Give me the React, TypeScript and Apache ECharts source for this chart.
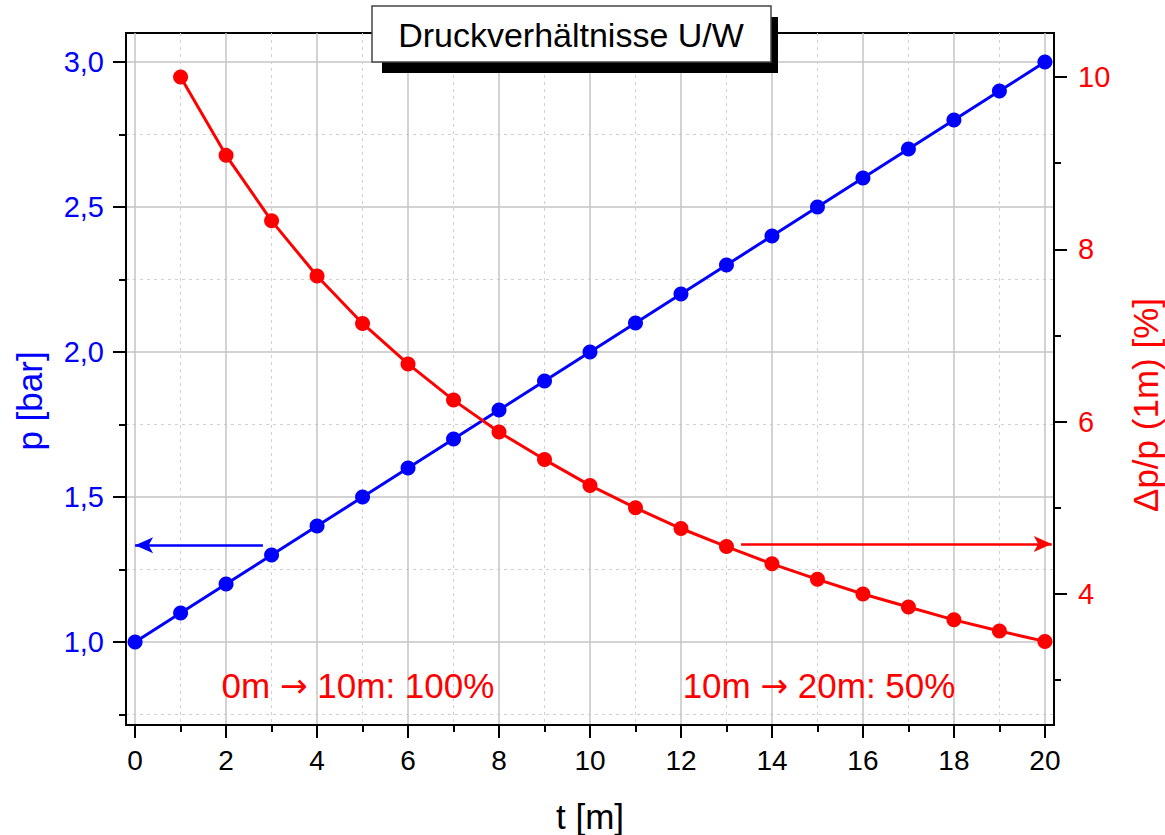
import React, { useEffect, useRef } from "react";
import * as echarts from "echarts";

// ---- data ----
const tValues = [0, 1, 2, 3, 4, 5, 6, 7, 8, 9, 10, 11, 12, 13, 14, 15, 16, 17, 18, 19, 20];
const pressureBar = [1.0, 1.1, 1.2, 1.3, 1.4, 1.5, 1.6, 1.7, 1.8, 1.9, 2.0, 2.1, 2.2, 2.3, 2.4, 2.5, 2.6, 2.7, 2.8, 2.9, 3.0];
const ratioT = [1, 2, 3, 4, 5, 6, 7, 8, 9, 10, 11, 12, 13, 14, 15, 16, 17, 18, 19, 20];
const ratioPct = [10.0, 9.09, 8.33, 7.69, 7.14, 6.67, 6.25, 5.88, 5.56, 5.26, 5.0, 4.76, 4.55, 4.35, 4.17, 4.0, 3.85, 3.7, 3.57, 3.45];

const xTicks = [0, 2, 4, 6, 8, 10, 12, 14, 16, 18, 20];
const leftTicks = [1.0, 1.5, 2.0, 2.5, 3.0];
const rightTicks = [4, 6, 8, 10];

const blueArrow = [[2.81, 1.334], [0, 1.334]];
const redArrow = [[13.32, 4.58], [20.15, 4.58]];

const titleText = "Druckverhältnisse U/W";
const xTitle = "t [m]";
const leftTitle = "p [bar]";
const rightTitle = "Δp/p (1m) [%]";
const note1 = ["0m ", "→", " 10m: 100%"];
const note2 = ["10m ", "→", " 20m: 50%"];

const FONT = "Arial, 'Liberation Sans', Helvetica, sans-serif";
const BLUE = "#0000ff";
const RED = "#ff0000";

const isMultiple = (v: number, step: number) => Math.abs(v / step - Math.round(v / step)) < 1e-6;

export default function App() {
  const ref = useRef<HTMLDivElement>(null);

  useEffect(() => {
    if (!ref.current) return;
    const chart = echarts.init(ref.current, undefined, { renderer: "svg" });

    const tickStyle = { color: "#000", width: 2 };
    const noteText = (parts: string[], x: number, y: number) => ({
      type: "text",
      z: 102,
      x,
      y,
      style: {
        text: `{a|${parts[0]}}{b|${parts[1]}}{a|${parts[2]}}`,
        fill: RED,
        textAlign: "center",
        textVerticalAlign: "middle",
        rich: {
          a: { fontSize: 35, fontFamily: FONT, fill: RED },
          b: { fontSize: 33, fontFamily: "'DejaVu Sans'", fill: RED },
        },
      },
    });

    const option: any = {
      animation: false,
      backgroundColor: "#ffffff",
      textStyle: { fontFamily: FONT },
      grid: {
        left: 126,
        right: 111,
        top: 33,
        bottom: 110,
        show: true,
        borderColor: "#000",
        borderWidth: 2,
        backgroundColor: "transparent",
      },
      xAxis: {
        type: "value",
        min: -0.2,
        max: 20.2,
        splitNumber: 10,
        axisLine: { show: true, onZero: false, lineStyle: { color: "#000", width: 2 } },
        axisTick: { show: true, length: 13, lineStyle: tickStyle, customValues: xTicks },
        minorTick: { show: true, splitNumber: 2, length: 7, lineStyle: tickStyle },
        axisLabel: {
          customValues: xTicks,
          margin: 21,
          fontSize: 28,
          color: "#000",
          fontFamily: FONT,
          formatter: (v: number) => (isMultiple(v, 2) ? String(Math.round(v)) : ""),
        },
        splitLine: { show: true, lineStyle: { color: "#c4c4c4", width: 1.5 } },
        minorSplitLine: { show: true, lineStyle: { color: "#d0d0d0", width: 1, type: [3, 4] } },
      },
      yAxis: [
        {
          type: "value",
          position: "left",
          min: 0.714,
          max: 3.1,
          splitNumber: 5,
          axisLine: { show: true, onZero: false, lineStyle: { color: "#000", width: 2 } },
          axisTick: { show: true, length: 13, lineStyle: tickStyle, customValues: leftTicks },
          minorTick: { show: true, splitNumber: 2, length: 7, lineStyle: tickStyle },
          axisLabel: {
            customValues: leftTicks,
            margin: 22,
            fontSize: 29,
            color: BLUE,
            fontFamily: FONT,
            formatter: (v: number) => (isMultiple(v, 0.5) ? v.toFixed(1).replace(".", ",") : ""),
          },
          splitLine: { show: true, lineStyle: { color: "#c4c4c4", width: 1.5 } },
          minorSplitLine: { show: true, lineStyle: { color: "#d0d0d0", width: 1, type: [3, 4] } },
        },
        {
          type: "value",
          position: "right",
          min: 2.48,
          max: 10.51,
          splitNumber: 4,
          axisLine: { show: true, onZero: false, lineStyle: { color: "#000", width: 2 } },
          axisTick: { show: true, length: 13, lineStyle: tickStyle, customValues: rightTicks },
          minorTick: { show: true, splitNumber: 2, length: 7, lineStyle: tickStyle },
          axisLabel: {
            customValues: rightTicks,
            margin: 24,
            fontSize: 29,
            color: RED,
            fontFamily: FONT,
            formatter: (v: number) => (isMultiple(v, 2) ? String(Math.round(v)) : ""),
          },
          splitLine: { show: false },
          minorSplitLine: { show: false },
        },
      ],
      series: [
        {
          name: "p",
          type: "line",
          xAxisIndex: 0,
          yAxisIndex: 0,
          data: tValues.map((t, i) => [t, pressureBar[i]]),
          symbol: "circle",
          symbolSize: 15,
          showAllSymbol: true,
          clip: false,
          lineStyle: { color: BLUE, width: 3 },
          itemStyle: { color: BLUE },
          z: 3,
          markLine: {
            silent: true,
            symbol: ["none", "arrow"],
            symbolSize: [12, 18],
            label: { show: false },
            lineStyle: { color: BLUE, width: 2.5, type: "solid" },
            data: [[{ coord: blueArrow[0] }, { coord: blueArrow[1] }]],
          },
        },
        {
          name: "dp/p",
          type: "line",
          xAxisIndex: 0,
          yAxisIndex: 1,
          data: ratioT.map((t, i) => [t, ratioPct[i]]),
          symbol: "circle",
          symbolSize: 15,
          showAllSymbol: true,
          clip: false,
          lineStyle: { color: RED, width: 3 },
          itemStyle: { color: RED },
          z: 3,
          markLine: {
            silent: true,
            symbol: ["none", "arrow"],
            symbolSize: [12, 18],
            label: { show: false },
            lineStyle: { color: RED, width: 2.5, type: "solid" },
            data: [[{ coord: redArrow[0] }, { coord: redArrow[1] }]],
          },
        },
      ],
      graphic: [
        {
          type: "rect",
          z: 100,
          shape: { x: 382, y: 17, width: 396, height: 56 },
          style: { fill: "#000" },
        },
        {
          type: "rect",
          z: 101,
          shape: { x: 372, y: 6, width: 399, height: 56 },
          style: { fill: "#fff", stroke: "#444", lineWidth: 1.5 },
        },
        {
          type: "text",
          z: 102,
          x: 571,
          y: 35,
          style: {
            text: titleText,
            font: `34px ${FONT}`,
            fill: "#000",
            textAlign: "center",
            textVerticalAlign: "middle",
          },
        },
        {
          type: "text",
          z: 102,
          x: 590,
          y: 816,
          style: {
            text: xTitle,
            font: `35px ${FONT}`,
            fill: "#000",
            textAlign: "center",
            textVerticalAlign: "middle",
          },
        },
        {
          type: "text",
          z: 102,
          x: 29,
          y: 401,
          rotation: Math.PI / 2,
          style: {
            text: leftTitle,
            font: `35px ${FONT}`,
            fill: BLUE,
            textAlign: "center",
            textVerticalAlign: "middle",
          },
        },
        {
          type: "text",
          z: 102,
          x: 1145,
          y: 405,
          rotation: Math.PI / 2,
          style: {
            text: rightTitle,
            font: `35px ${FONT}`,
            fill: RED,
            textAlign: "center",
            textVerticalAlign: "middle",
          },
        },
        noteText(note1, 358, 685),
        noteText(note2, 819, 685),
      ],
    };

    chart.setOption(option);
    return () => {
      chart.dispose();
    };
  }, []);

  return (
    <div
      ref={ref}
      style={{ position: "fixed", left: 0, top: 0, width: 1165, height: 835, background: "#fff" }}
    />
  );
}
